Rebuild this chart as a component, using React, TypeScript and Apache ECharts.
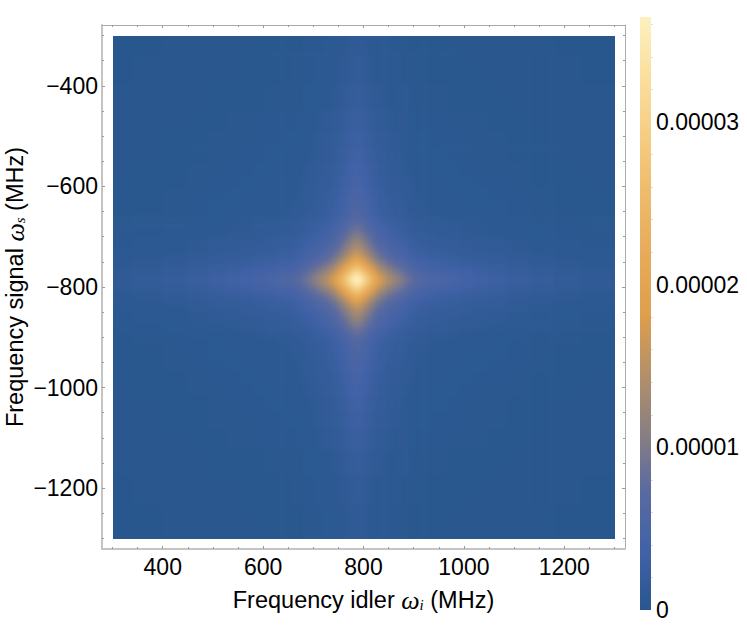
import React, { useEffect, useRef } from "react";
import * as echarts from "echarts";

const idlerPeak = 786;
const signalPeak = -785;
const axisX = [279, 1321];
const axisY = [-1321, -279];
const heatAxisX = [259, 1341];
const heatAxisY = [-1341, -259];

const idlerMajor = [400, 600, 800, 1000, 1200];
const idlerMinor = [300, 350, 450, 500, 550, 650, 700, 750, 850, 900, 950, 1050, 1100, 1150, 1250, 1300];
const signalMajor = [-400, -600, -800, -1000, -1200];
const signalMinor = [-300, -350, -450, -500, -550, -650, -700, -750, -850, -900, -950, -1050, -1100, -1150, -1250, -1300];
const barMax = 3.645e-5;
const barLabels = [0, 1e-5, 2e-5, 3e-5];
const barTicks = [2e-6, 4e-6, 6e-6, 8e-6, 1.2e-5, 1.4e-5, 1.6e-5, 1.8e-5, 2.2e-5, 2.4e-5, 2.6e-5, 2.8e-5, 3.2e-5, 3.4e-5, 3.6e-5];

const ramp = ["#28578d", "#4162a7", "#5a6aa0", "#8a7f82", "#b59068", "#de9f4e", "#e6ab5a", "#eeba6b", "#f5cd84", "#fadf9f", "#fef1bf"];

// distance from the peak, MHz: band edges shared by both axes
const bandEdges = [0, 5, 10, 15, 20, 25, 30, 36, 42, 48, 55, 62, 70, 78, 87, 97, 108, 120, 133, 148, 165, 185, 207, 233, 263, 298, 340, 390, 450, 560];

// intensity, one quadrant around the peak, in units of 1e-7
const intensity = [
  [365,347,329,303,279,256,230,206,183,166,150,137,124,113,99,86,73,62,57,53,49,45,40,35,31,26,20,15,12],
  [347,330,312,288,265,243,219,196,174,158,142,130,118,107,94,82,69,59,54,50,47,42,38,34,29,24,19,15,11],
  [329,312,296,273,252,230,207,186,165,150,135,123,112,102,89,77,66,56,51,48,44,40,36,32,28,23,18,14,11],
  [303,288,273,251,232,212,191,171,152,138,124,114,103,94,82,71,61,52,47,44,41,37,33,29,26,21,17,13,10],
  [279,265,251,232,213,195,176,158,140,127,114,105,95,86,75,66,56,47,43,40,38,34,31,27,24,20,15,12,9],
  [256,243,230,212,196,179,161,145,128,116,105,96,87,79,69,60,51,44,40,37,35,31,28,25,22,18,14,11,8],
  [230,219,207,191,176,161,145,130,115,105,94,86,78,71,62,54,46,39,36,33,31,28,25,22,20,16,13,10,7],
  [206,196,185,171,158,144,130,116,103,94,84,77,70,64,56,48,41,35,32,30,28,25,23,20,18,14,11,9,7],
  [183,174,165,152,140,128,115,103,92,83,75,69,62,57,49,43,37,31,28,27,25,22,20,18,16,13,10,8,6],
  [166,158,149,138,127,116,105,94,83,76,68,62,56,51,45,39,33,28,26,24,22,20,18,16,14,12,9,7,5],
  [150,142,135,124,115,105,94,85,75,68,61,56,51,46,40,35,30,26,23,22,20,18,17,15,13,10,8,6,5],
  [137,130,123,114,105,96,86,77,69,62,56,51,47,42,37,32,27,23,21,20,18,17,15,13,12,10,8,6,4],
  [124,118,112,103,95,87,78,70,62,56,51,47,42,38,33,29,25,21,19,18,17,15,14,12,11,9,7,5,4],
  [113,107,102,94,86,79,71,64,57,51,46,42,38,35,31,27,23,19,18,16,15,14,12,11,10,8,6,5,4],
  [99,94,89,82,76,69,62,56,50,45,41,37,34,31,27,23,20,17,15,14,13,12,11,10,8,7,5,4,3],
  [86,82,77,71,66,60,54,49,43,39,35,32,29,27,23,20,17,15,13,12,12,10,9,8,7,6,5,4,3],
  [73,69,66,61,56,51,46,41,37,33,30,27,25,23,20,17,15,12,11,11,10,9,8,7,6,5,4,3,2],
  [62,59,56,51,47,43,39,35,31,28,25,23,21,19,17,15,12,11,10,9,8,8,7,6,5,4,3,3,2],
  [56,54,51,47,44,40,36,32,29,26,23,21,19,18,15,13,11,10,9,8,8,7,6,6,5,4,3,2,2],
  [52,50,48,44,41,37,33,30,27,24,22,20,18,16,14,12,11,9,8,8,7,6,6,5,5,4,3,2,2],
  [49,47,44,41,37,34,31,28,25,22,20,18,17,15,13,12,10,8,8,7,7,6,5,5,4,3,3,2,2],
  [45,43,40,37,34,32,28,25,22,20,18,17,15,14,12,11,9,8,7,7,6,5,5,4,4,3,2,2,1],
  [40,38,36,33,31,28,25,23,20,18,16,15,14,12,11,9,8,7,6,6,5,5,4,4,3,3,2,2,1],
  [35,33,32,29,27,25,22,20,18,16,14,13,12,11,9,8,7,6,5,5,5,4,4,3,3,2,2,1,1],
  [31,29,28,26,24,22,20,18,16,14,13,12,11,10,8,7,6,5,5,4,4,4,3,3,3,2,2,1,1],
  [26,25,23,22,20,18,16,15,13,12,11,10,9,8,7,6,5,4,4,4,4,3,3,3,2,2,1,1,1],
  [20,19,18,17,15,14,13,11,10,9,8,8,7,6,5,5,4,3,3,3,3,2,2,2,2,1,1,1,1],
  [15,14,14,12,11,11,9,8,8,7,6,6,5,5,4,4,3,3,2,2,2,2,2,1,1,1,1,1,0],
  [12,11,11,10,9,8,8,7,6,5,5,5,4,4,3,3,2,2,2,2,2,1,1,1,1,1,1,0,0],
];

const FONT = "'Liberation Sans', Arial, sans-serif";

function buildCells() {
  const cells: number[][] = [];
  for (const sx of [-1, 1]) {
    for (const sy of [-1, 1]) {
      intensity.forEach((row, i) => {
        row.forEach((v, j) => {
          const xa = idlerPeak + sx * bandEdges[j];
          const xb = idlerPeak + sx * bandEdges[j + 1];
          const ya = signalPeak + sy * bandEdges[i];
          const yb = signalPeak + sy * bandEdges[i + 1];
          cells.push([Math.min(xa, xb), Math.max(xa, xb), Math.min(ya, yb), Math.max(ya, yb), v]);
        });
      });
    }
  }
  return cells;
}

const GRID = { left: 102, top: 25, width: 523, height: 524, outerBoundsMode: "none" };
const LINE_A = "#c4c4c4";
const LINE_B = "#ababab";
const TICK = "#9a9a9a";

const dash = (v: number) => String(v).replace("-", "\u2212");

function frameAxis(
  position: string,
  range: number[],
  ticks: number[],
  len: number,
  lineColor: string | null,
  extra: object = {}
) {
  return {
    type: "value",
    position,
    min: range[0],
    max: range[1],
    splitLine: { show: false },
    axisLine: lineColor ? { show: true, onZero: false, lineStyle: { color: lineColor, width: position === "left" || position === "bottom" ? 2 : 1 } } : { show: false },
    axisTick: { show: true, inside: true, length: len, customValues: ticks, lineStyle: { color: TICK, width: 1 } },
    axisLabel: { show: false },
    ...extra,
  };
}

const labelled = (values: number[], margin: number) => ({
  show: true,
  customValues: values,
  formatter: (v: number) => dash(v),
  color: "#000",
  fontFamily: FONT,
  fontSize: 23,
  margin,
});

const nameStyle = {
  color: "#000",
  fontFamily: FONT,
  fontSize: 23.5,
  rich: {
    w: { fontFamily: "'Liberation Serif', serif", fontStyle: "italic", fontSize: 26, color: "#000" },
    s: { fontFamily: "'Liberation Serif', serif", fontStyle: "italic", fontSize: 15, color: "#000", padding: [9, 0, 0, 0] },
  },
};

export default function App() {
  const heatRef = useRef<HTMLDivElement>(null);
  const ref = useRef<HTMLDivElement>(null);
  useEffect(() => {
    const heat = echarts.init(heatRef.current!, undefined, { renderer: "svg" });
    heat.setOption({
      animation: false,
      grid: { left: 0, top: 0, right: 0, bottom: 0, outerBoundsMode: "none" },
      xAxis: { type: "value", min: heatAxisX[0], max: heatAxisX[1], show: false },
      yAxis: { type: "value", min: heatAxisY[0], max: heatAxisY[1], show: false },
      visualMap: { show: false, seriesIndex: 0, dimension: 4, min: 0, max: 365, inRange: { color: ramp } },
      series: [
        {
          type: "custom",
          coordinateSystem: "cartesian2d",
          clip: false,
          silent: true,
          encode: { x: [0, 1], y: [2, 3] },
          data: buildCells(),
          renderItem: (_p: any, api: any) => {
            const a = api.coord([api.value(0), api.value(3)]);
            const b = api.coord([api.value(1), api.value(2)]);
            return {
              type: "rect",
              shape: { x: a[0], y: a[1], width: b[0] - a[0] + 0.7, height: b[1] - a[1] + 0.7 },
              style: { fill: api.visual("color") },
              silent: true,
            };
          },
        },
      ],
    });
    const chart = echarts.init(ref.current!, undefined, { renderer: "svg" });
    chart.setOption({
      animation: false,
      grid: [
        { ...GRID },
        { left: 640, top: 17, width: 11, height: 593, outerBoundsMode: "none" },
      ],
      xAxis: [
        frameAxis("bottom", axisX, idlerMajor, 3, LINE_A, {
          axisLabel: labelled(idlerMajor, 6),
          name: "Frequency idler {w|\u03c9}{s|i} (MHz)",
          nameLocation: "middle",
          nameGap: 38,
          nameMoveOverlap: false,
          nameTextStyle: nameStyle,
        }),
        frameAxis("bottom", axisX, idlerMinor, 2, null),
        frameAxis("top", axisX, idlerMajor, 3, LINE_B),
        frameAxis("top", axisX, idlerMinor, 2, null),
        { type: "category", gridIndex: 1, data: ["bar"], show: false },
      ],
      yAxis: [
        frameAxis("left", axisY, signalMajor, 3, LINE_A, {
          axisLabel: labelled(signalMajor, 4),
          name: "Frequency signal {w|\u03c9}{s|s} (MHz)",
          nameLocation: "middle",
          nameGap: 74,
          nameMoveOverlap: false,
          nameTextStyle: nameStyle,
        }),
        frameAxis("left", axisY, signalMinor, 2, null),
        frameAxis("right", axisY, signalMajor, 3, LINE_B),
        frameAxis("right", axisY, signalMinor, 2, null),
        {
          type: "value",
          gridIndex: 1,
          position: "right",
          min: 0,
          max: barMax,
          splitLine: { show: false },
          axisLine: { show: false },
          axisTick: { show: true, inside: false, length: 2, customValues: barTicks, lineStyle: { color: "#dedede" } },
          axisLabel: {
            show: true,
            customValues: barLabels,
            formatter: (v: number) => (v === 0 ? "0" : v.toFixed(5)),
            color: "#000",
            fontFamily: FONT,
            fontSize: 23,
            margin: 5,
          },
        },
      ],
      series: [
        {
          type: "bar",
          xAxisIndex: 4,
          yAxisIndex: 4,
          barWidth: "100%",
          silent: true,
          data: [barMax],
          itemStyle: {
            color: new echarts.graphic.LinearGradient(
              0, 1, 0, 0,
              ramp.map((c, i) => ({ offset: i / (ramp.length - 1), color: c }))
            ),
          },
        },
      ],
    });
    return () => {
      heat.dispose();
      chart.dispose();
    };
  }, []);
  return (
    <div style={{ position: "fixed", left: 0, top: 0, width: 747, height: 637, overflow: "hidden", background: "#fff" }}>
      <div style={{ position: "absolute", left: 112.5, top: 35.5, width: 502, height: 503, overflow: "hidden" }}>
        <div ref={heatRef} style={{ position: "absolute", left: -20.5, top: -20.5, width: 543, height: 544, filter: "blur(2px)" }} />
      </div>
      <div ref={ref} style={{ position: "absolute", left: 0, top: 0, width: 747, height: 637 }} />
    </div>
  );
}
